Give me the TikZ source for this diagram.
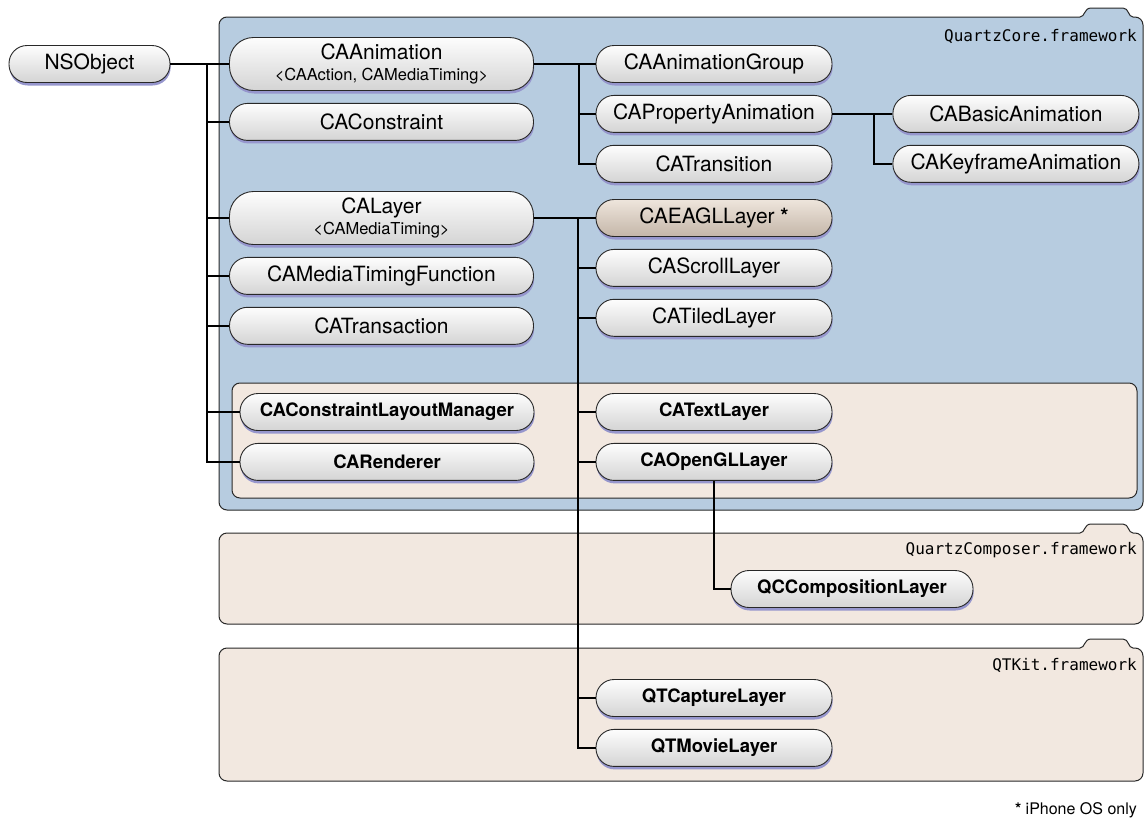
\documentclass[tikz,border=0pt]{standalone}
\usepackage{fontspec}
\setmainfont{TeX Gyre Heros}
\newfontfamily\fwfont{DejaVu Sans Mono}
\usetikzlibrary{positioning,shadows}
\definecolor{qcblue}{RGB}{183,204,224}
\definecolor{qctan}{RGB}{242,232,224}
\definecolor{pilltop}{RGB}{253,253,253}
\definecolor{pillbot}{RGB}{212,212,212}
\definecolor{eagltop}{RGB}{238,229,220}
\definecolor{eaglbot}{RGB}{196,182,168}
\definecolor{pillshadow}{RGB}{150,150,205}
\definecolor{edgegray}{RGB}{40,40,40}
\newcommand{\protofont}{\fontsize{16.5}{18}\selectfont}

\begin{document}
\begin{tikzpicture}[x=1pt,y=-1pt,
    node distance=12pt and 60pt,
    cls/.style={draw=edgegray,line width=0.9pt,rounded corners=18pt,
                minimum height=37pt,inner sep=0pt,
                top color=pilltop,bottom color=pillbot,
                drop shadow={shadow xshift=0.6pt,shadow yshift=-3pt,
                             fill=pillshadow,opacity=1},
                font=\fontsize{21}{22}\selectfont},
    twoline/.style={cls,minimum height=53pt,rounded corners=24pt,align=center},
    bold/.style={cls,font=\fontsize{18.5}{20}\selectfont\bfseries},
    eagl/.style={top color=eagltop,bottom color=eaglbot},
    link/.style={line width=1.6pt,black},
    fw/.style={draw=edgegray,line width=1pt},
    fwlabel/.style={anchor=east,inner sep=0pt,
                    font=\fwfont\fontsize{16}{18}\selectfont},
  ]
    \useasboundingbox (0,0) rectangle (1144,830);
    \foreach \top/\bot/\col in {17/510/qcblue,533/624/qctan,648/781/qctan}
      \draw[fw,fill=\col] (1080,\top) .. controls (1085,\top) and (1084,\top-9) .. (1091,\top-9)
        -- (1123,\top-9) .. controls (1129,\top-9) and (1128,\top) .. (1133,\top)
        [rounded corners=8pt] -- (1143,\top) -- (1143,\bot) -- (219,\bot) -- (219,\top) -- (1080,\top);
    \draw[fw,fill=qctan,rounded corners=8pt] (232,383) rectangle (1137,498);
    \node[fwlabel] (qclabel) at (1137,36) {QuartzCore.framework};
    \node[fwlabel] (qcomplabel) at (1137,550) {QuartzComposer.framework};
    \node[fwlabel] (qtklabel) at (1137,665) {QTKit.framework};

    \node[cls,minimum width=161pt] (nsobj) at (89.5,64) {NSObject};
    \node[twoline,minimum width=304pt] (caanim) at (381.5,64)
      {CAAnimation\\[-1pt]{\protofont <CAAction, CAMediaTiming>}};
    \node[cls,minimum width=304pt,below=of caanim] (cacons) {CAConstraint};
    \node[twoline,minimum width=304pt] (calayer) at (381.5,218)
      {CALayer\\[-1pt]{\protofont <CAMediaTiming>}};
    \node[cls,minimum width=304pt,below=of calayer] (camtf) {CAMediaTimingFunction};
    \node[cls,minimum width=304pt,below=of camtf] (catransact) {CATransaction};
    \node[bold,minimum width=294pt] (caclm) at (387,412) {CAConstraintLayoutManager};
    \node[bold,minimum width=294pt,below=of caclm] (carender) {CARenderer};

    \node[cls,minimum width=236pt] (cagroup) at (714,64) {CAAnimationGroup};
    \node[cls,minimum width=236pt,below=of cagroup] (caprop) {CAPropertyAnimation};
    \node[cls,minimum width=236pt,below=of caprop] (catransit) {CATransition};
    \node[cls,minimum width=246pt,right=of caprop] (cabasic) {CABasicAnimation};
    \node[cls,minimum width=246pt,below=of cabasic] (cakey) {CAKeyframeAnimation};

    \node[cls,eagl,minimum width=236pt] (caeagl) at (714,218) {CAEAGLLayer \textbf{*}};
    \node[cls,minimum width=236pt,below=of caeagl] (cascroll) {CAScrollLayer};
    \node[cls,minimum width=236pt,below=of cascroll] (catiled) {CATiledLayer};
    \node[bold,minimum width=236pt] (catext) at (714,412) {CATextLayer};
    \node[bold,minimum width=236pt,below=of catext] (caogl) {CAOpenGLLayer};
    \node[bold,minimum width=242pt] (qccomp) at (852,589) {QCCompositionLayer};
    \node[bold,minimum width=236pt] (qtcap) at (714,698) {QTCaptureLayer};
    \node[bold,minimum width=236pt,below=of qtcap] (qtmovie) {QTMovieLayer};

    \coordinate (rootbus) at (207,64);
    \coordinate (animbus) at (579,64);
    \coordinate (propbus) at (874,113);
    \coordinate (layerbus) at (578,218);
    \draw[link] (nsobj) -- (caanim);
    \foreach \n in {cacons,calayer,camtf,catransact,caclm,carender}
      \draw[link] (rootbus) |- (\n.west);
    \draw[link] (caanim) -- (cagroup);
    \foreach \n in {caprop,catransit}
      \draw[link] (animbus) |- (\n.west);
    \draw[link] (caprop) -- (cabasic);
    \draw[link] (propbus) |- (cakey.west);
    \draw[link] (calayer) -- (caeagl);
    \foreach \n in {cascroll,catiled,catext,caogl,qtcap,qtmovie}
      \draw[link] (layerbus) |- (\n.west);
    \draw[link] (caogl.south) |- (qccomp.west);

    \node[anchor=east,inner sep=0pt,font=\fontsize{16}{18}\selectfont] (iphonenote)
      at (1137,810) {\textbf{*} iPhone OS only};
  \end{tikzpicture}
\end{document}
